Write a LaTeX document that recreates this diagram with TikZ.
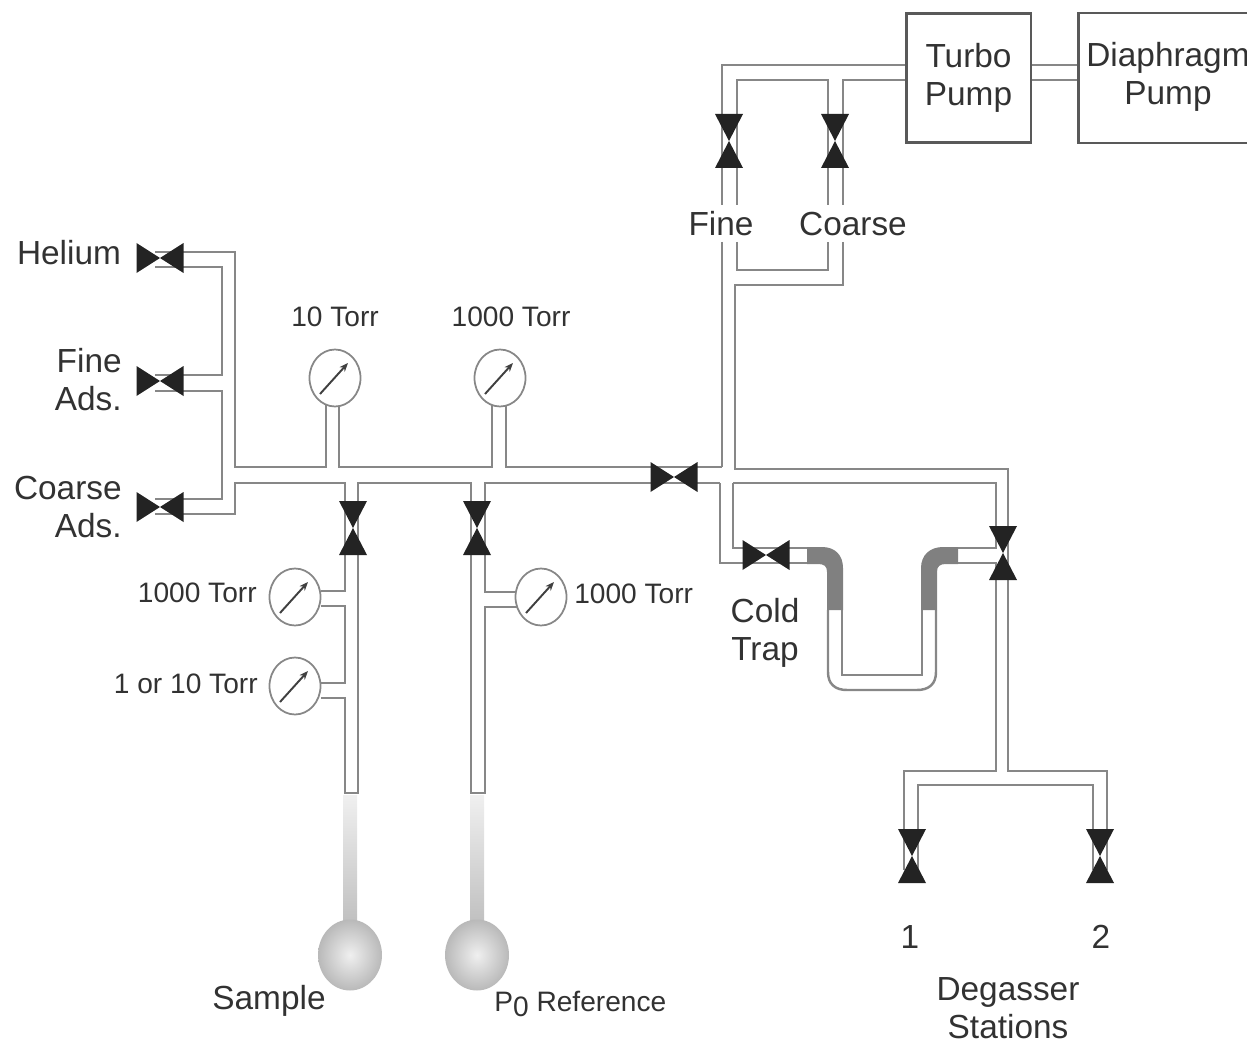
\documentclass[tikz,border=0pt]{standalone}
\usepackage{fontspec}
\setmainfont{Liberation Sans}
\usepackage{tikz}
\usetikzlibrary{arrows.meta}
\usetikzlibrary{shapes.geometric}
\definecolor{labelink}{RGB}{50,50,50}
\definecolor{valveink}{RGB}{35,35,35}
\definecolor{pipeink}{RGB}{135,135,135}
\tikzset{
  pipe/.style={line width=1.4pt,pipeink,line join=miter},
  pumpbox/.style={draw=black!65,line width=1.7pt,fill=white,inner sep=0pt,align=center,
    minimum height=2.6cm,text=labelink,font=\fontsize{19}{21.5}\selectfont},
  biglabel/.style={inner sep=0pt,align=center,text=labelink,font=\fontsize{19}{21.7}\selectfont},
  smalllabel/.style={inner sep=0pt,text=labelink,font=\fontsize{16}{18}\selectfont},
  bulb/.style={ellipse,draw=none,inner color=gray!12,outer color=gray!55,inner sep=0pt,
    minimum width=1.28cm,minimum height=1.42cm},
  hvalve/.pic={\fill[valveink] (-23.5,-15) -- (23.5,15) -- (23.5,-15) -- (-23.5,15) -- cycle;},
  vvalve/.pic={\fill[valveink] (-14,-27) -- (14,27) -- (-14,27) -- (14,-27) -- cycle;},
  gauge/.pic={
    \draw[pipeink,line width=1pt,fill=white] (0,0) ellipse (25.5 and 28.5);
    \draw[black!75,line width=1.1pt,-{Stealth[length=5pt,width=4pt]}] (-15,16) -- (13,-15);
  },
}

\begin{document}
\begin{tikzpicture}[x=0.02cm,y=-0.02cm]
	\useasboundingbox (0,0) rectangle (1247,1044);

	\path
	(160,258) coordinate (vhelium)
	(160,381) coordinate (vfine)
	(160,507) coordinate (vcoarse)
	(674,477) coordinate (vmain)
	(766,555) coordinate (vtrap)
	(729,141) coordinate (vpumpfine)
	(835,141) coordinate (vpumpcoarse)
	(353,528) coordinate (vsample)
	(477,528) coordinate (vref)
	(1003,553) coordinate (vdegas)
	(912,856) coordinate (vstationa)
	(1100,856) coordinate (vstationb)
	(335,378) coordinate (gten)
	(500,378) coordinate (gthousand)
	(295,597) coordinate (gsamplehigh)
	(295,686) coordinate (gsamplelow)
	(541,597) coordinate (grefhigh)
	;

	% sample and reference tubes
	\shade[top color=gray!12,bottom color=gray!50] (343,795) rectangle (357,925);
	\shade[top color=gray!12,bottom color=gray!50] (470,795) rectangle (484,925);
	\node[bulb] (bsample) at (350,955) {};
	\node[bulb] (bref) at (477,955) {};

	% gas inlets
	\draw[pipe] (155,252) -- (235,252) -- (235,467) -- (326,467) -- (326,405);
	\draw[pipe] (155,267) -- (222,267) -- (222,375) -- (155,375);
	\draw[pipe] (155,391) -- (222,391) -- (222,499) -- (155,499);
	\draw[pipe] (155,514) -- (235,514) -- (235,483) -- (345,483) -- (345,591) -- (321,591);
	\draw[pipe] (321,606) -- (345,606) -- (345,683) -- (321,683);
	\draw[pipe] (321,698) -- (345,698) -- (345,793) -- (358,793) -- (358,483) -- (471,483) -- (471,793) -- (485,793) -- (485,607) -- (520,607);
	\draw[pipe] (520,592) -- (485,592) -- (485,483) -- (720,483);
	\draw[pipe] (339,405) -- (339,467) -- (492,467) -- (492,405);
	\draw[pipe] (506,405) -- (506,467) -- (722,467);

	% pump lines
	\draw[pipe] (906,65) -- (722,65) -- (722,205);
	\draw[pipe] (722,242) -- (722,467);
	\draw[pipe] (737,205) -- (737,80) -- (828,80) -- (828,205);
	\draw[pipe] (843,205) -- (843,80) -- (906,80);
	\draw[pipe] (737,242) -- (737,270) -- (828,270) -- (828,242);
	\draw[pipe] (843,242) -- (843,285) -- (735,285) -- (735,469) -- (1008,469) -- (1008,771) -- (1107,771) -- (1107,870);
	\draw[pipe] (1031,65) -- (1078,65);
	\draw[pipe] (1031,80) -- (1078,80);

	% cold trap
	\draw[pipe] (720,483) -- (720,563) -- (807,563);
	\draw[pipe] (733,483) -- (733,548) -- (807,548);
	\draw[pipe] (733,483) -- (996,483) -- (996,548) -- (958,548);
	\draw[pipe] (958,563) -- (996,563) -- (996,771) -- (904,771) -- (904,870);
	\draw[pipe] (918,870) -- (918,785) -- (1093,785) -- (1093,870);
	\draw[pipe] (842,610) -- (842,675) -- (922,675) -- (922,610);
	\draw[pipe] (828,610) -- (828,672) .. controls (828,684) and (835,690) .. (847,690) -- (917,690) .. controls (929,690) and (936,684) .. (936,672) -- (936,610);
	\fill[gray] (807,547) -- (822,547) .. controls (835,547) and (843,555) .. (843,568) -- (843,610) -- (827,610) -- (827,572) .. controls (827,566) and (824,564) .. (818,564) -- (807,564) -- cycle;
	\fill[gray] (958,547) -- (943,547) .. controls (930,547) and (921,555) .. (921,568) -- (921,610) -- (937,610) -- (937,572) .. controls (937,566) and (940,564) .. (946,564) -- (958,564) -- cycle;

	% valves
	\pic at (vhelium) {hvalve};
	\pic at (vfine) {hvalve};
	\pic at (vcoarse) {hvalve};
	\pic at (vmain) {hvalve};
	\pic at (vtrap) {hvalve};
	\pic at (vpumpfine) {vvalve};
	\pic at (vpumpcoarse) {vvalve};
	\pic at (vsample) {vvalve};
	\pic at (vref) {vvalve};
	\pic at (vdegas) {vvalve};
	\pic at (vstationa) {vvalve};
	\pic at (vstationb) {vvalve};

	% gauges
	\pic at (gten) {gauge};
	\pic at (gthousand) {gauge};
	\pic at (gsamplehigh) {gauge};
	\pic at (gsamplelow) {gauge};
	\pic at (grefhigh) {gauge};

	% pumps
	\node[pumpbox,minimum width=2.5cm] (turbo) at (968.5,78) {Turbo\\Pump};
	\draw[draw=black!65,line width=1.7pt] (1260,13) -- (1078,13) -- (1078,143) -- (1260,143);
	\draw (1168,77) node[biglabel] (diaphragm) {Diaphragm\\Pump};

	% labels
	\draw (69,253) node[biglabel] (lhelium) {Helium};
	\draw (122,380) node[biglabel,align=right,anchor=east] (lfine) {Fine\\Ads.};
	\draw (122,507) node[biglabel,align=right,anchor=east] (lcoarse) {Coarse\\Ads.};
	\draw (721,224) node[biglabel] (lpumpfine) {Fine};
	\draw (853,224) node[biglabel] (lpumpcoarse) {Coarse};
	\draw (765,633) node[biglabel] (ltrap) {Cold\\Trap};
	\draw (269,1001) node[biglabel] (lsample) {Sample};
	\draw (910,937) node[biglabel] (lone) {1};
	\draw (1101,937) node[biglabel] (ltwo) {2};
	\draw (1008,1008) node[biglabel] (lstations) {Degasser\\Stations};
	\draw (335,317) node[smalllabel] (lten) {10 Torr};
	\draw (511,317) node[smalllabel] (lthousand) {1000 Torr};
	\draw (257,593) node[smalllabel,anchor=east] (lsamplehigh) {1000 Torr};
	\draw (258,684) node[smalllabel,anchor=east] (lsamplelow) {1 or 10 Torr};
	\draw (574,594) node[smalllabel,anchor=west] (lrefhigh) {1000 Torr};
	\draw (494,1004) node[smalllabel,anchor=west] (lref) {P\raisebox{-3pt}{0} Reference};
\end{tikzpicture}
\end{document}
